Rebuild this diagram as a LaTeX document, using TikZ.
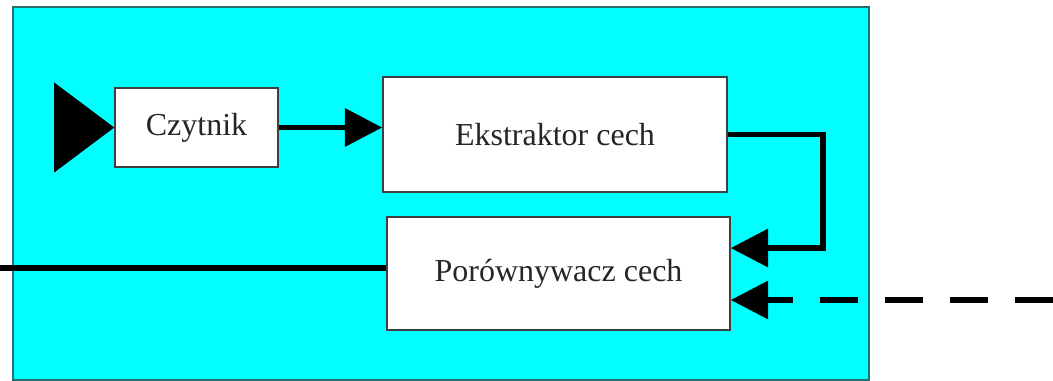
\documentclass[tikz,border=0pt]{standalone}
\usepackage{fontspec}
\setmainfont{Liberation Serif}
\usetikzlibrary{arrows.meta}
\definecolor{aquabg}{RGB}{0,255,255}
\definecolor{aquaedge}{RGB}{40,110,110}
\begin{document}
\begin{tikzpicture}[x=0.75pt,y=-0.75pt,
  box/.style={draw=black!75, line width=1.2pt, fill=white, inner sep=0pt, text=black!85,
    font=\fontsize{24}{28}\selectfont},
  conn/.style={line width=4.2pt, -{Triangle[length=28pt,width=28pt]}},
  plain/.style={line width=4.2pt},
]
\useasboundingbox (0,0) rectangle (1053,381);
\fill[white] (0,0) rectangle (1053,381);
\draw[fill=aquabg, draw=aquaedge, line width=1.5pt] (13,7) rectangle (869,379.5);
\node[box, minimum width=122.25pt, minimum height=59.25pt] (czyt) at (196.5,127.5) {Czytnik};
\node[box, minimum width=258pt, minimum height=86.25pt] (ekst) at (555,134.5) {Ekstraktor cech};
\node[box, minimum width=257.25pt, minimum height=84.75pt] (por) at (558.5,273.5) {Porównywacz cech};
\fill[black] (czyt.west) -- ++(-60,-45) -- ++(0,90) -- cycle;
\draw[conn] (czyt.east) -- (czyt.east -| ekst.west);
\draw[conn] (ekst.east) -- ++(95,0) |- ([yshift=19.1pt]por.east);
\coordinate (din) at (1053,300);
\draw[conn, dash pattern=on 28.5pt off 20.25pt] (din) -- (din -| por.east);
\coordinate (lout) at (0,268);
\draw[plain] (lout) -- (lout -| por.west);
\end{tikzpicture}
\end{document}
